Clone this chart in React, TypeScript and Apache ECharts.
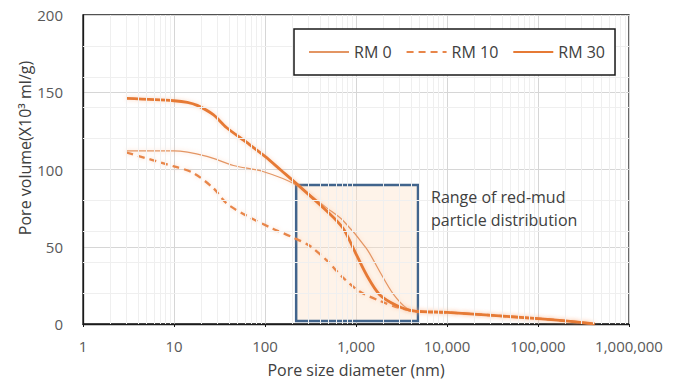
import React, { useEffect, useRef } from "react";
import * as echarts from "echarts";

const rm0Sizes = [3, 10, 23, 45, 95, 220, 480, 720, 1300, 1820, 2560, 3650, 4800, 10000, 100000, 200000, 420000];
const rm0Values = [112, 112, 108.5, 102.6, 98.7, 90, 75, 67, 49, 34, 19.5, 10, 8.5, 7.5, 3.5, 2, 0];

const rm10Sizes = [3, 10, 16, 27, 38, 63, 122, 203, 310, 480, 720, 1100, 1820, 3000, 4800, 10000, 100000, 200000, 420000];
const rm10Values = [111, 102, 98, 88, 78, 70, 61.7, 56, 50.6, 41, 30, 21, 15, 10.4, 8, 7.5, 3.5, 2, 0];

const rm30Sizes = [3, 10, 14, 18, 27, 38, 63, 100, 150, 220, 480, 720, 970, 1300, 1820, 2800, 4250, 10000, 100000, 200000, 420000];
const rm30Values = [146, 144.5, 143.5, 141.5, 135.5, 127, 117.5, 108.5, 99.5, 91, 73, 62, 47, 32, 19, 12, 8.5, 7.5, 3.5, 2, 0];

const seriesNames = ["RM 0", "RM 10", "RM 30"];

// range of red-mud particle distribution (nm, pore volume)
const rangeX = [220, 4800];
const rangeY = [2, 90];

const minorX: number[] = [];
[1, 10, 100, 1000, 10000, 100000].forEach((d) => {
  for (let k = 2; k <= 9; k++) minorX.push(d * k);
});
const minorY = [20, 40, 60, 80, 120, 140, 160, 180];

const pairs = (xs: number[], ys: number[]) => xs.map((x, i) => [x, ys[i]]);

const FONT = "'Open Sans', 'Liberation Sans', sans-serif";

export default function App() {
  const ref = useRef<HTMLDivElement>(null);
  useEffect(() => {
    if (!ref.current) return;
    const chart = echarts.init(ref.current, undefined, { renderer: "svg" });
    const glow = { shadowColor: "rgba(247,170,120,0.45)", shadowBlur: 4 };
    chart.setOption({
      animation: false,
      backgroundColor: "#ffffff",
      textStyle: { fontFamily: FONT },
      grid: {
        left: 83,
        right: 49,
        top: 15,
        bottom: 65,
        show: true,
        borderColor: "#1a1a1a",
        borderWidth: 1.3,
        backgroundColor: "#ffffff",
      },
      legend: {
        left: 294,
        top: 29,
        z: 20,
        data: seriesNames,
        itemWidth: 40,
        itemHeight: 14,
        itemGap: 14,
        padding: [15, 10, 15, 14],
        borderColor: "#1a1a1a",
        borderWidth: 1.5,
        backgroundColor: "#ffffff",
        itemStyle: { opacity: 0 },
        textStyle: { fontSize: 16, color: "#404040", fontFamily: FONT },
      },
      xAxis: {
        type: "log",
        logBase: 10,
        min: 1,
        max: 1000000,
        splitNumber: 6,
        name: "Pore size diameter (nm)",
        nameLocation: "middle",
        nameGap: 38,
        nameTextStyle: { fontSize: 16, color: "#404040", fontFamily: FONT },
        axisLine: { show: true, lineStyle: { color: "#1a1a1a", width: 1.3 } },
        axisTick: { show: true, length: 3, lineStyle: { color: "#1a1a1a" } },
        axisLabel: {
          fontSize: 15,
          color: "#595959",
          margin: 14,
          fontFamily: FONT,
          formatter: (v: number) => Math.round(v).toLocaleString("en-US"),
        },
        splitLine: { show: true, lineStyle: { color: "#d6d6d6", width: 1 } },
      },
      yAxis: {
        type: "value",
        min: 0,
        max: 200,
        interval: 50,
        axisLine: { show: true, lineStyle: { color: "#1a1a1a", width: 1.3 } },
        axisTick: { show: false },
        axisLabel: { fontSize: 15, color: "#595959", margin: 20, fontFamily: FONT },
        splitLine: { show: true, lineStyle: { color: "#d6d6d6", width: 1 } },
      },
      graphic: [
        {
          type: "text",
          x: 25,
          y: 148,
          z: 100,
          rotation: Math.PI / 2,
          style: {
            text: "Pore volume(X10\u00b3 ml/g)",
            fontSize: 16,
            fontFamily: FONT,
            fill: "#404040",
            align: "center",
            verticalAlign: "middle",
          },
        },
        {
          type: "text",
          x: 431,
          y: 185,
          z: 100,
          style: {
            text: "Range of red-mud\nparticle distribution",
            fontSize: 16,
            lineHeight: 23,
            fontFamily: FONT,
            fill: "#404040",
            align: "left",
            verticalAlign: "top",
          },
        },
      ],
      series: [
        {
          type: "line",
          name: "grid-minor",
          data: [],
          silent: true,
          z: 1,
          markLine: {
            silent: true,
            symbol: ["none", "none"],
            label: { show: false },
            lineStyle: { color: "#efefef", width: 1, type: "solid" },
            data: [
              ...minorX.map((v) => ({ xAxis: v })),
              ...minorY.map((v) => ({ yAxis: v })),
            ],
          },
        },
        {
          type: "line",
          name: "range",
          data: [],
          silent: true,
          z: 2,
          markArea: {
            silent: true,
            itemStyle: {
              color: "rgba(252, 224, 200, 0.4)",
              borderColor: "#41648c",
              borderWidth: 2.5,
              borderType: "solid",
            },
            data: [[{ xAxis: rangeX[0], yAxis: rangeY[0] }, { xAxis: rangeX[1], yAxis: rangeY[1] }]],
          },
        },
        {
          type: "line",
          name: seriesNames[0],
          data: pairs(rm0Sizes, rm0Values),
          smooth: 0.3,
          symbol: "none",
          z: 3,
          color: "#e39563",
          lineStyle: { color: "#e39563", width: 1.2, ...glow },
        },
        {
          type: "line",
          name: seriesNames[1],
          data: pairs(rm10Sizes, rm10Values),
          smooth: 0.3,
          symbol: "none",
          z: 3,
          color: "#e8864a",
          lineStyle: { color: "#e8864a", width: 2.3, type: [7, 5], ...glow },
        },
        {
          type: "line",
          name: seriesNames[2],
          data: pairs(rm30Sizes, rm30Values),
          smooth: 0.3,
          symbol: "none",
          z: 3,
          color: "#e67a35",
          lineStyle: { color: "#e67a35", width: 2.8, ...glow },
        },
      ],
    });
    return () => chart.dispose();
  }, []);
  return <div ref={ref} style={{ width: 678, height: 389, position: "absolute", left: 0, top: 0 }} />;
}
